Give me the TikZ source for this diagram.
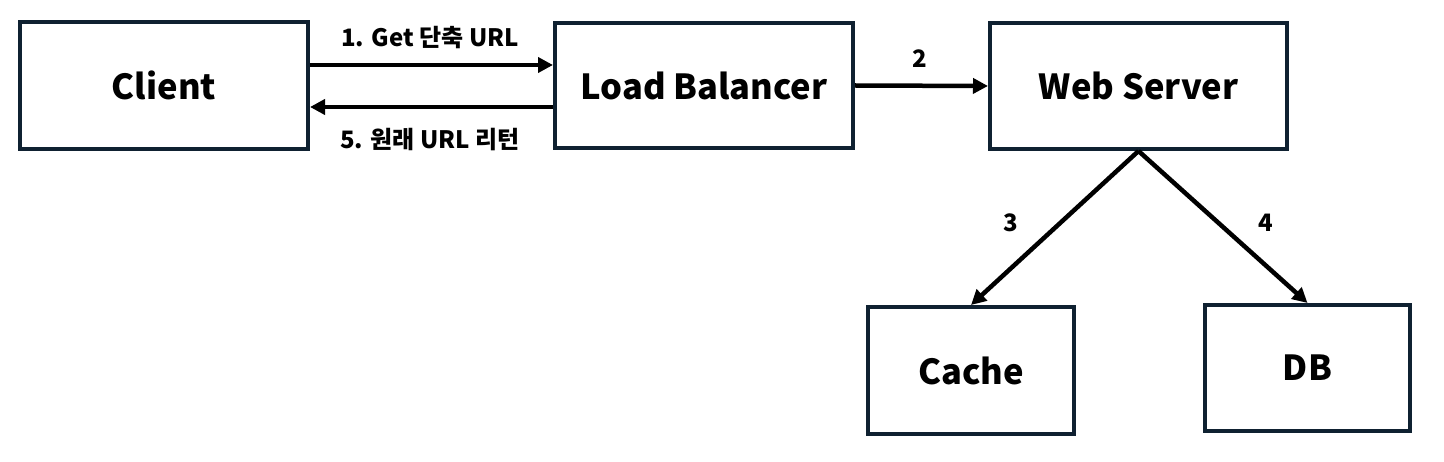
\documentclass[tikz,border=0pt]{standalone}
\usepackage{fontspec}
\setmainfont{Noto Sans CJK KR}
\usetikzlibrary{arrows.meta}
\definecolor{boxcol}{HTML}{0F2131}
\tikzset{
  box/.style={draw=boxcol, line width=4pt, fill=white, inner sep=0pt, font=\fontsize{34.5}{40}\selectfont\bfseries},
  arr/.style={draw=black, line width=4.5pt, -{Triangle[length=15pt,width=15pt]}},
  lbl/.style={inner sep=0pt, font=\fontsize{24}{28}\selectfont\bfseries}
}
\begin{document}
\begin{tikzpicture}[x=1pt,y=-1pt]
\useasboundingbox (0,0) rectangle (1444,462);
\node[box, minimum width=288pt, minimum height=127pt] (client) at (164,85.5) {Client};
\node[box, minimum width=298pt, minimum height=125pt] (lb) at (704,85.5) {Load Balancer};
\node[box, minimum width=297pt, minimum height=126pt] (ws) at (1138.5,86) {Web Server};
\node[box, minimum width=206pt, minimum height=127pt] (cache) at (971,370.5) {Cache};
\node[box, minimum width=205pt, minimum height=126pt] (db) at (1307.5,368) {DB};
\draw[arr] ([yshift=20.5pt]client.east) -- ([yshift=20.5pt]client.east -| lb.west);
\draw[arr] ([yshift=-21.5pt]lb.west) -- ([yshift=-21.5pt]lb.west -| client.east);
\draw[arr] (lb.east) -- (ws.west);
\draw[arr] (ws.south) -- (cache.north);
\draw[arr] (ws.south) -- (db.north);
\node[lbl] (l1) at (430,38) {1. Get 단축 URL};
\node[lbl] (l5) at (430,140) {5. 원래 URL 리턴};
\node[lbl] (l2) at (920,59) {2};
\node[lbl] (l3) at (1011,223) {3};
\node[lbl] (l4) at (1266,223) {4};
\end{tikzpicture}
\end{document}
